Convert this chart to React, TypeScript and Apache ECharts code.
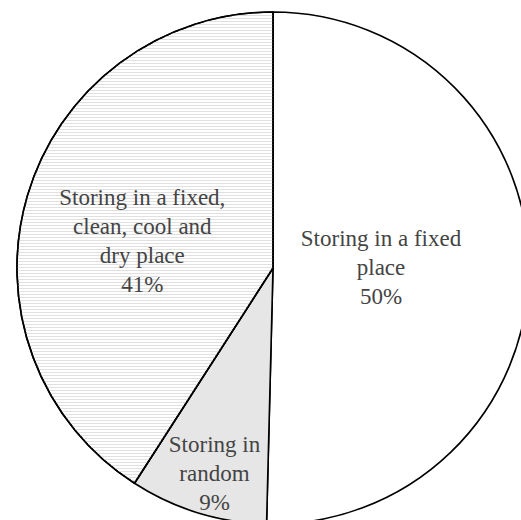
import React, { useEffect, useRef } from "react";
import * as echarts from "echarts";

const categories = [
  "Storing in a fixed place",
  "Storing in random",
  "Storing in a fixed, clean, cool and dry place",
];
const labelTexts = [
  "Storing in a fixed\nplace",
  "Storing in\nrandom",
  "Storing in a fixed,\nclean, cool and\ndry place",
];
const values = [50.4, 8.7, 40.9];

const fills = ["#ffffff", "#e6e6e6", "#ffffff"];
const labelShift = [
  [-23, -2],
  [-20, 80],
  [-5, 10],
];

export default function App() {
  const ref = useRef<HTMLDivElement>(null);
  useEffect(() => {
    if (!ref.current) return;
    const chart = echarts.init(ref.current, null, { renderer: "svg" });
    chart.setOption({
      animation: false,
      backgroundColor: "#ffffff",
      series: [
        {
          type: "pie",
          center: [273, 268],
          radius: [0, 256],
          startAngle: 90,
          clockwise: true,
          percentPrecision: 0,
          silent: true,
          label: {
            show: true,
            position: "inside",
            fontFamily: "'Liberation Serif', 'DejaVu Serif', serif",
            fontSize: 23,
            lineHeight: 29,
            color: "#444444",
            align: "center",
            formatter: (p: any) => labelTexts[p.dataIndex] + "\n" + p.percent + "%",
          },
          labelLayout: (p: any) => ({
            dx: labelShift[p.dataIndex][0],
            dy: labelShift[p.dataIndex][1],
          }),
          labelLine: { show: false },
          itemStyle: { borderColor: "#000000", borderWidth: 1.6 },
          data: categories.map((name, i) => ({
            name,
            value: values[i],
            itemStyle:
              i === 2
                ? {
                    color: fills[i],
                    decal: {
                      symbol: "rect",
                      symbolSize: 1,
                      dashArrayX: [1, 0],
                      dashArrayY: [1, 2],
                      rotation: 0,
                      color: "#e0e0e0",
                    },
                  }
                : { color: fills[i] },
          })),
        },
      ],
    });
    return () => chart.dispose();
  }, []);
  return (
    <div
      ref={ref}
      style={{ position: "fixed", left: 0, top: 0, width: 521, height: 520 }}
    />
  );
}
